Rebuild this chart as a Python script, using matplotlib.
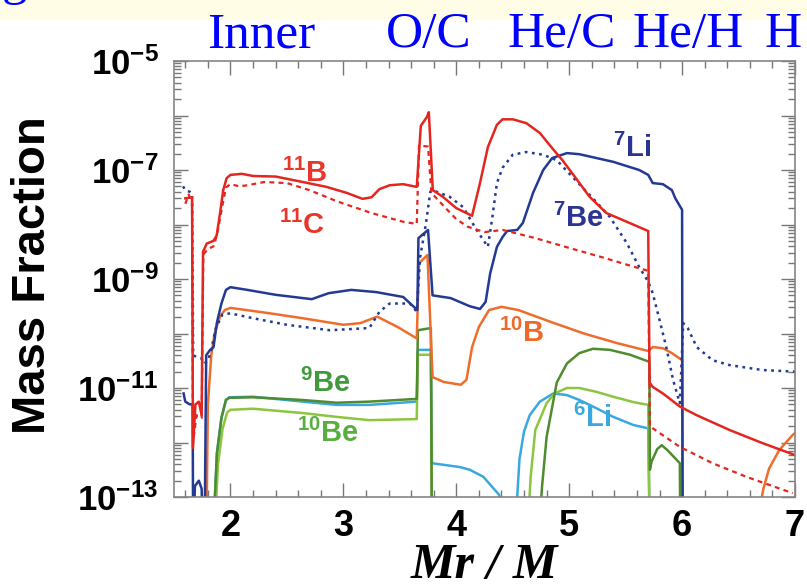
import matplotlib
matplotlib.use('Agg')
import matplotlib.pyplot as plt
from matplotlib.ticker import LogLocator, MultipleLocator, FuncFormatter, NullFormatter
from matplotlib.patches import Rectangle
import numpy as np

plt.rcParams['font.family'] = ['Liberation Sans', 'DejaVu Sans']
plt.rcParams['mathtext.fontset'] = 'custom'
plt.rcParams['mathtext.rm'] = 'Liberation Sans:bold'
plt.rcParams['mathtext.it'] = 'Liberation Sans:bold'
plt.rcParams['mathtext.bf'] = 'Liberation Sans:bold'
plt.rcParams['mathtext.default'] = 'rm'

# Abundance profiles: mass coordinate Mr/M and log10 of the mass fraction
b11_x = [1.60, 1.66, 1.668, 1.69, 1.72, 1.745, 1.757, 1.79, 1.85, 1.878, 1.907, 1.936, 1.966, 2.00, 2.10,
         2.20, 2.40, 2.64, 2.85, 3.03, 3.17, 3.25, 3.32, 3.41, 3.53, 3.65, 3.686, 3.739, 3.757, 3.792,
         3.88, 4.00, 4.14, 4.21, 4.28, 4.36, 4.41, 4.50, 4.62, 4.74, 4.85, 4.94, 5.07, 5.18, 5.33,
         5.51, 5.70, 5.712, 5.74, 5.83, 5.98, 6.13, 6.42, 6.71, 7.00]
b11_y = [-7.52, -7.50, -12.1, -11.3, -11.25, -11.5, -8.5, -8.35, -8.3, -8.2, -7.8, -7.37, -7.15, -7.09, -7.07,
         -7.11, -7.12, -7.22, -7.31, -7.42, -7.53, -7.50, -7.35, -7.28, -7.26, -7.31, -6.19, -6.03, -5.94, -7.37,
         -7.49, -7.70, -7.84, -7.24, -6.58, -6.17, -6.07, -6.07, -6.14, -6.32, -6.60, -6.82, -7.18, -7.49, -7.79,
         -7.95, -8.12, -10.9, -10.98, -11.1, -11.34, -11.5, -11.77, -12.01, -12.23]

c11_x = [1.60, 1.63, 1.66, 1.668, 1.70, 1.745, 1.76, 1.80, 1.85, 1.88, 1.92, 1.96, 2.00, 2.08, 2.15,
         2.30, 2.50, 2.70, 2.95, 3.25, 3.53, 3.65, 3.67, 3.75, 3.78, 3.92, 4.00, 4.10, 4.25, 4.41,
         4.70, 5.00, 5.29, 5.58, 5.70, 5.715, 5.74, 5.98, 6.27, 6.57, 6.98]
c11_y = [-7.62, -7.45, -7.6, -12.0, -11.5, -11.55, -8.55, -8.45, -8.4, -8.2, -7.75, -7.32, -7.26, -7.3, -7.28,
         -7.22, -7.24, -7.37, -7.58, -7.79, -7.95, -7.99, -6.55, -6.57, -7.42, -7.73, -7.90, -8.04, -8.14, -8.10,
         -8.25, -8.43, -8.60, -8.78, -8.85, -11.7, -11.74, -12.08, -12.38, -12.63, -12.93]

li7_x = [1.585, 1.60, 1.64, 1.665, 1.67, 1.685, 1.72, 1.745, 1.755, 1.77, 1.785, 1.82, 1.85, 1.88, 1.92,
         1.96, 2.00, 2.15, 2.40, 2.72, 2.87, 3.07, 3.29, 3.53, 3.655, 3.665, 3.75, 3.79, 3.95, 4.12,
         4.21, 4.26, 4.30, 4.36, 4.41, 4.45, 4.54, 4.59, 4.68, 4.77, 4.85, 4.98, 5.09, 5.39, 5.62,
         5.70, 5.74, 5.83, 5.91, 5.94, 6.00, 6.005]
li7_y = [-11.1, -11.25, -11.3, -11.3, -14, -12.8, -12.7, -12.85, -14, -14, -10.4, -10.3, -10.25, -9.8, -9.45,
         -9.2, -9.15, -9.2, -9.29, -9.37, -9.26, -9.2, -9.24, -9.33, -9.57, -8.25, -8.1, -9.3, -9.35, -9.5,
         -9.55, -9.42, -8.9, -8.41, -8.23, -8.12, -8.1, -7.97, -7.42, -7.0, -6.78, -6.69, -6.71, -6.85, -7.0,
         -7.09, -7.24, -7.26, -7.37, -7.52, -7.73, -14]

be7_x = [1.58, 1.60, 1.64, 1.66, 1.67, 1.70, 1.74, 1.77, 1.80, 1.83, 1.87, 1.93, 2.00, 2.20, 2.50,
         2.88, 3.23, 3.32, 3.41, 3.59, 3.65, 3.68, 3.73, 3.77, 3.79, 3.94, 4.06, 4.18, 4.28, 4.32,
         4.36, 4.41, 4.50, 4.62, 4.77, 4.89, 5.03, 5.21, 5.36, 5.51, 5.62, 5.70, 5.74, 5.80, 5.86,
         5.92, 5.98, 6.01, 6.05, 6.13, 6.27, 6.42, 6.71, 7.00]
be7_y = [-7.3, -7.37, -7.4, -7.45, -10.4, -10.43, -10.45, -10.55, -10.5, -10.3, -9.9, -9.65, -9.63, -9.72, -9.84,
         -9.94, -9.9, -9.6, -9.45, -9.45, -9.6, -8.6, -8.0, -7.4, -7.37, -7.49, -7.68, -8.1, -8.41, -7.86,
         -7.24, -6.96, -6.72, -6.67, -6.72, -6.82, -7.13, -7.52, -7.86, -8.34, -8.78, -9.05, -9.26, -9.75, -10.25,
         -10.85, -11.28, -9.81, -9.9, -10.25, -10.49, -10.58, -10.67, -10.7]

b10_x = [1.785, 1.80, 1.83, 1.86, 1.878, 1.907, 1.95, 2.00, 2.35, 2.64, 3.00, 3.15, 3.30, 3.48, 3.65,
         3.67, 3.745, 3.79, 3.89, 4.04, 4.09, 4.14, 4.20, 4.29, 4.40, 4.55, 4.84, 5.13, 5.43, 5.70,
         5.74, 5.83, 5.91, 6.00, 6.005]
b10_y = [-14, -11.3, -10.4, -10.0, -9.88, -9.69, -9.57, -9.53, -9.63, -9.72, -9.84, -9.81, -9.69, -9.88, -10.09,
         -8.71, -8.56, -10.8, -10.89, -10.94, -10.85, -10.25, -9.88, -9.57, -9.51, -9.57, -9.79, -10.0, -10.18, -10.32,
         -10.25, -10.27, -10.36, -10.49, -14]

# outer branch of 10B near the H envelope
b10_out_x = [6.68, 6.72, 6.77, 6.86, 6.98, 7.05]
b10_out_y = [-13.3, -12.85, -12.48, -12.14, -11.86, -11.75]

be9_x = [1.84, 1.88, 1.92, 1.96, 1.99, 2.20, 2.64, 2.94, 3.23, 3.65, 3.66, 3.775, 3.785, 4.72, 4.76,
         4.80, 4.89, 4.98, 5.09, 5.21, 5.36, 5.54, 5.71, 5.715, 5.73, 5.78, 5.82, 5.87, 5.98, 5.985]
be9_y = [-14, -12.2, -11.55, -11.22, -11.18, -11.17, -11.22, -11.27, -11.25, -11.2, -9.94, -9.9, -14, -14, -12.8,
         -11.9, -10.9, -10.55, -10.36, -10.28, -10.3, -10.39, -10.52, -12.5, -12.35, -12.12, -12.05, -12.14, -12.38, -14]

be10_x = [1.85, 1.89, 1.93, 1.97, 2.00, 2.20, 2.64, 2.94, 3.23, 3.65, 3.66, 3.775, 3.785, 4.62, 4.66,
          4.70, 4.80, 4.87, 4.98, 5.09, 5.24, 5.39, 5.57, 5.70, 5.715]
be10_y = [-14, -12.4, -11.75, -11.45, -11.4, -11.38, -11.46, -11.53, -11.59, -11.57, -10.39, -10.39, -14, -14, -12.6,
          -11.77, -11.28, -11.1, -11.0, -11.0, -11.07, -11.16, -11.26, -11.31, -14]

li6_x = [1.84, 1.88, 1.92, 1.96, 1.99, 2.20, 2.64, 2.94, 3.23, 3.65, 3.66, 3.775, 3.785, 4.03, 4.12,
         4.24, 4.32, 4.38, 4.42, 4.51, 4.56, 4.60, 4.65, 4.74, 4.86, 4.98, 5.09, 5.24, 5.39, 5.57,
         5.70, 5.715]
li6_y = [-14, -12.2, -11.55, -11.22, -11.17, -11.16, -11.25, -11.31, -11.31, -11.25, -10.3, -10.3, -12.38, -12.45, -12.5,
         -12.63, -12.82, -12.96, -14, -14, -12.3, -11.8, -11.5, -11.25, -11.1, -11.13, -11.22, -11.37, -11.53, -11.68,
         -11.74, -14]

# isotope labels: text, x, log10 y, colour
iso_labels = [
    ('$^{11}$B', 2.66, -7.06, '#e8362b'),
    ('$^{11}$C', 2.63, -8.01, '#e8362b'),
    ('$^{7}$Li', 5.56, -6.60, '#2b3490'),
    ('$^{7}$Be', 5.08, -7.88, '#2b3490'),
    ('$^{10}$B', 4.58, -9.99, '#ee6a2a'),
    ('$^{9}$Be', 2.84, -10.91, '#3f9a3b'),
    ('$^{10}$Be', 2.86, -11.84, '#58ae3e'),
    ('$^{6}$Li', 5.20, -11.55, '#3aa8e0'),
]

# layer names across the top
layer_names = ['Inner', 'O/C', 'He/C', 'He/H', 'H']
layer_pos = [261, 429, 562, 688, 783]

RED = '#e3261f'
NAVY = '#233a95'
ORANGE = '#ef6d2c'
DKGREEN = '#4f8b2f'
LTGREEN = '#8cc540'
LTBLUE = '#3aa8e0'

W, H = 807, 588
fig = plt.figure(figsize=(W / 100, H / 100), dpi=100)
fig.patches.append(Rectangle((0, 1 - 20 / H), 1, 20 / H, transform=fig.transFigure,
                             facecolor='#fffde6', edgecolor='none', zorder=0))

ax = fig.add_axes([174 / W, 1 - 497 / H, (795 - 174) / W, (497 - 61) / H])


def pw(v):
    return np.power(10.0, np.array(v, dtype=float))


lw = 1.8
ax.plot(li6_x, pw(li6_y), color=LTBLUE, lw=lw)
ax.plot(be10_x, pw(be10_y), color=LTGREEN, lw=lw)
ax.plot(be9_x, pw(be9_y), color=DKGREEN, lw=lw)
ax.plot(b10_x, pw(b10_y), color=ORANGE, lw=lw)
ax.plot(b10_out_x, pw(b10_out_y), color=ORANGE, lw=lw)
ax.plot(be7_x, pw(be7_y), color=NAVY, lw=1.8, linestyle=(0, (1.1, 1.8)))
ax.plot(li7_x, pw(li7_y), color=NAVY, lw=lw)
ax.plot(c11_x, pw(c11_y), color=RED, lw=1.6, linestyle=(0, (2.2, 1.9)))
ax.plot(b11_x, pw(b11_y), color=RED, lw=lw)

for txt, x, ly, col in iso_labels:
    ax.text(x, 10 ** ly, txt, color=col, fontsize=21, fontweight='bold',
            ha='center', va='center')

ax.set_xlim(1.5, 7.0)
ax.set_yscale('log')
ax.set_ylim(1e-13, 1e-5)

ax.xaxis.set_major_locator(MultipleLocator(1))
ax.xaxis.set_minor_locator(MultipleLocator(0.2))
ax.xaxis.set_major_formatter(FuncFormatter(lambda v, p: '%d' % round(v) if v > 1.9 else ''))
ax.yaxis.set_major_locator(LogLocator(base=10, numticks=20))
ax.yaxis.set_minor_locator(LogLocator(base=10, subs=np.arange(2, 10), numticks=100))
ax.yaxis.set_minor_formatter(NullFormatter())


def ylab(v, p):
    e = int(round(np.log10(v)))
    return '$10^{%d}$' % e if e % 2 else ''


ax.yaxis.set_major_formatter(FuncFormatter(ylab))

for s in ax.spines.values():
    s.set_color('#858585')
    s.set_linewidth(1.2)
ax.tick_params(which='both', direction='in', top=True, right=True, color='#777777', width=1.0)
ax.tick_params(which='major', length=10)
ax.tick_params(which='minor', length=5)
ax.tick_params(axis='y', which='major', pad=11, labelsize=25)
ax.tick_params(axis='x', which='major', pad=9, labelsize=26)
for t in ax.get_xticklabels():
    t.set_fontweight('bold')

fig.text(33 / W, 1 - 275 / H, 'Mass Fraction', rotation=90, fontsize=34, fontweight='bold',
         ha='center', va='center')
fig.text(484 / W, 1 - 578 / H, 'Mr / M', fontsize=36, fontweight='bold', fontstyle='italic',
         family='Liberation Serif', ha='center', va='baseline')

for name, px in zip(layer_names, layer_pos):
    fig.text(px / W, 1 - 47 / H, name, color='#0000ff', fontsize=37,
             family='Liberation Serif', ha='center', va='baseline')
# tail of the slide heading above the plot
fig.text(2 / W, 1 + 6 / H, 'g', color='#0000ff', fontsize=37,
         family='Liberation Serif', ha='left', va='baseline')

fig.savefig('out.png', dpi=100)
